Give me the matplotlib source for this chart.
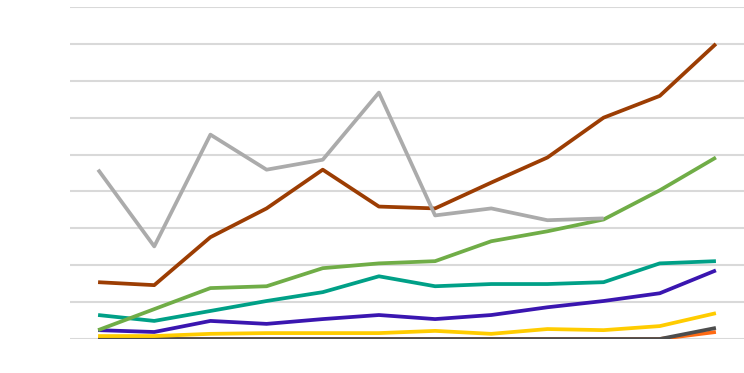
import numpy as np
import matplotlib.pyplot as plt

# category positions (labels are not shown in the chart)
periods = list(range(12))

gray_vals = [4.59, 2.51, 5.54, 4.59, 4.86, 6.68, 3.35, 3.54, 3.22, 3.27]
brown_vals = [1.54, 1.46, 2.76, 3.54, 4.59, 3.59, 3.54, 4.24, 4.92, 6.0, 6.59, 8.0]
green_vals = [0.24, 0.81, 1.38, 1.43, 1.92, 2.05, 2.11, 2.65, 2.92, 3.24, 4.03, 4.92]
teal_vals = [0.65, 0.49, 0.76, 1.03, 1.27, 1.70, 1.43, 1.49, 1.49, 1.54, 2.05, 2.11]
purple_vals = [0.24, 0.19, 0.49, 0.41, 0.54, 0.65, 0.54, 0.65, 0.86, 1.03, 1.24, 1.86]
yellow_vals = [0.08, 0.08, 0.14, 0.16, 0.16, 0.16, 0.22, 0.14, 0.27, 0.24, 0.35, 0.70]
orange_vals = [0, 0, 0, 0, 0, 0, 0, 0, 0, 0, 0, 0.19]
dark_vals = [0, 0, 0, 0, 0, 0, 0, 0, 0, 0, 0, 0.30]

series = [
  (orange_vals, '#ff6a13'),
  (dark_vals, '#4d4d4d'),
  (yellow_vals, '#ffcc00'),
  (purple_vals, '#3a16b0'),
  (teal_vals, '#00a087'),
  (green_vals, '#70ad47'),
  (brown_vals, '#9c3d03'),
  (gray_vals, '#ababab'),
]

fig = plt.figure(figsize=(7.44, 3.73), dpi=100)
ax = fig.add_axes([70 / 744, 34 / 373, 674 / 744, 332 / 373])

for vals, col in series:
  ax.plot(periods[:len(vals)], vals, color=col, lw=2.7, solid_capstyle='butt', zorder=3)

ax.set_xlim(-0.5, 11.5)
ax.set_ylim(0, 9)
ax.set_yticks(np.arange(0, 10, 1))
ax.yaxis.grid(True, color='#d9d9d9', lw=1.5)
ax.set_axisbelow(True)
ax.tick_params(left=False, bottom=False, labelleft=False, labelbottom=False)
for s in ax.spines.values():
  s.set_visible(False)

fig.savefig('out.png', dpi=100)
